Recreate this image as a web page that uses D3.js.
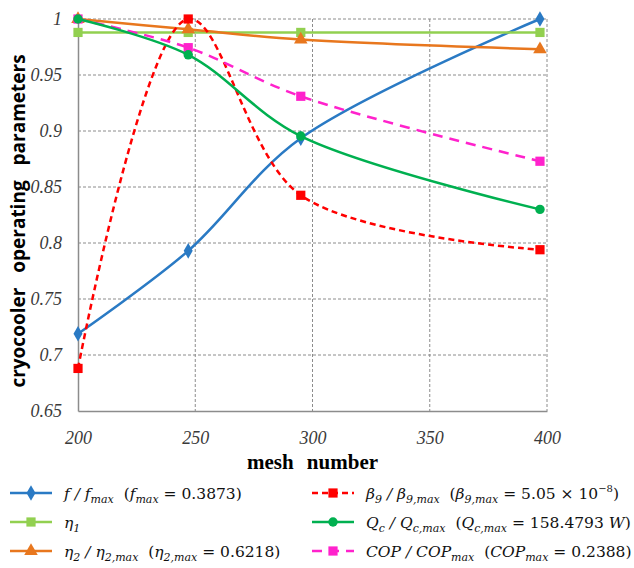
<!DOCTYPE html>
<html>
<head>
<meta charset="utf-8">
<script src="https://cdn.jsdelivr.net/npm/d3@7"></script>
<style>
  body { margin: 0; background: #fff; }
  svg { display: block; }
  .tick text { font-family: "Liberation Serif", "Times New Roman", serif; font-style: italic; font-size: 18px; fill: #3a3a3a; }
</style>
</head>
<body>
<svg id="chart" width="634" height="568"></svg>
<script>
// mesh numbers at which each series was sampled
var meshNumbers = [200, 247, 295, 397];

var fRatio = [0.719, 0.793, 0.8935, 1.0];
var eta1 = [0.988, 0.988, 0.988, 0.988];
var eta2Ratio = [1.0, 0.9908, 0.9816, 0.973];
var beta9Ratio = [0.688, 1.0, 0.8426, 0.794];
var qcRatio = [1.0, 0.968, 0.8955, 0.83];
var copRatio = [1.0, 0.9744, 0.931, 0.873];

var xTicks = [200, 250, 300, 350, 400];
var yTicks = [0.65, 0.7, 0.75, 0.8, 0.85, 0.9, 0.95, 1];

var margin = {top: 19, right: 87, bottom: 157, left: 78},
    width = 634 - margin.left - margin.right,
    height = 568 - margin.top - margin.bottom;

var svg = d3.select("#chart");
var g = svg.append("g")
    .attr("transform", "translate(" + margin.left + "," + margin.top + ")");

var x = d3.scaleLinear().domain([200, 400]).range([0, width]);
var y = d3.scaleLinear().domain([0.65, 1]).range([height, 0]);

// grid lines
g.append("g").selectAll("line").data(xTicks.slice(1))
  .enter().append("line")
    .attr("x1", function(d) { return x(d); })
    .attr("x2", function(d) { return x(d); })
    .attr("y1", 0).attr("y2", height)
    .attr("stroke", "#8c8c8c").attr("stroke-width", 1)
    .attr("stroke-dasharray", "3,2");
g.append("g").selectAll("line").data(yTicks.slice(1))
  .enter().append("line")
    .attr("x1", 0).attr("x2", width)
    .attr("y1", function(d) { return y(d); })
    .attr("y2", function(d) { return y(d); })
    .attr("stroke", "#8c8c8c").attr("stroke-width", 1)
    .attr("stroke-dasharray", "3,2");

// axes
var xAxis = g.append("g")
    .attr("transform", "translate(0," + height + ")")
    .call(d3.axisBottom(x).tickValues(xTicks).tickSize(0).tickPadding(20));
var yAxis = g.append("g")
    .call(d3.axisLeft(y).tickValues(yTicks).tickSize(0).tickPadding(16)
      .tickFormat(function(d) { return d === 1 ? "1" : String(+d.toFixed(2)); }));

[xAxis, yAxis].forEach(function(a) {
  a.attr("font-family", null).attr("font-size", null);
  a.select(".domain").attr("stroke", "#8c8c8c").attr("stroke-width", 1.5);
});

// axis titles
svg.append("text")
    .attr("transform", "translate(25," + (margin.top + height / 2 + 6) + ") rotate(-90)")
    .attr("text-anchor", "middle")
    .style("font-family", "'Open Sans', sans-serif")
    .style("font-weight", "bold")
    .style("font-size", "19px")
    .style("word-spacing", "10px")
    .text("cryocooler operating parameters");
svg.append("text")
    .attr("x", margin.left + width / 2)
    .attr("y", 469)
    .attr("text-anchor", "middle")
    .style("font-family", "'Liberation Serif', 'Times New Roman', serif")
    .style("font-weight", "bold")
    .style("font-size", "21px")
    .style("word-spacing", "8px")
    .text("mesh number");

var series = [
  {key: "f", values: fRatio, color: "#2A7AC4", dash: null, marker: "diamond", size: 70},
  {key: "eta1", values: eta1, color: "#92D050", dash: null, marker: "square", size: 85},
  {key: "eta2", values: eta2Ratio, color: "#E8771E", dash: null, marker: "triangle", size: 80},
  {key: "beta9", values: beta9Ratio, color: "#FF0000", dash: "6,4", marker: "square", size: 85},
  {key: "cop", values: copRatio, color: "#FF22CC", dash: "10,7", marker: "square", size: 85},
  {key: "qc", values: qcRatio, color: "#00B050", dash: null, marker: "circle", size: 70}
];

var symbols = {
  diamond: d3.symbolDiamond,
  square: d3.symbolSquare,
  triangle: d3.symbolTriangle,
  circle: d3.symbolCircle
};

var line = d3.line()
    .x(function(d) { return x(d[0]); })
    .y(function(d) { return y(d[1]); })
    .curve(d3.curveCatmullRom.alpha(0.5));

series.forEach(function(s) {
  var pts = meshNumbers.map(function(m, i) { return [m, s.values[i]]; });
  g.append("path")
    .datum(pts)
    .attr("fill", "none")
    .attr("stroke", s.color)
    .attr("stroke-width", 2.5)
    .attr("stroke-dasharray", s.dash)
    .attr("d", line);
  g.append("g").selectAll("path").data(pts)
    .enter().append("path")
      .attr("transform", function(d) { return "translate(" + x(d[0]) + "," + y(d[1]) + ")"; })
      .attr("d", d3.symbol().type(symbols[s.marker]).size(s.size))
      .attr("fill", s.color);
});

// legend
var legendItems = [
  {s: series[0], col: 0, row: 0, parts: [["f", 0], [" / ", 0], ["f", 0], ["max", 1], ["  (", 2], ["f", 0], ["max", 1], [" = 0.3873)", 2]]},
  {s: series[1], col: 0, row: 1, parts: [["η", 0], ["1", 1]]},
  {s: series[2], col: 0, row: 2, parts: [["η", 0], ["2", 1], [" / ", 0], ["η", 0], ["2,max", 1], ["  (", 2], ["η", 0], ["2,max", 1], [" = 0.6218)", 2]]},
  {s: series[3], col: 1, row: 0, parts: [["β", 0], ["9", 1], [" / ", 0], ["β", 0], ["9,max", 1], ["  (", 2], ["β", 0], ["9,max", 1], [" = 5.05 × 10", 2], ["−8", 3], [")", 2]]},
  {s: series[5], col: 1, row: 1, parts: [["Q", 0], ["c", 1], [" / ", 0], ["Q", 0], ["c,max", 1], ["  (", 2], ["Q", 0], ["c,max", 1], [" = 158.4793 ", 2], ["W", 0], [")", 2]]},
  {s: series[4], col: 1, row: 2, parts: [["COP", 0], [" / ", 0], ["COP", 0], ["max", 1], ["  (", 2], ["COP", 0], ["max", 1], [" = 0.2388)", 2]]}
];

var legendX = [10, 312], legendY = [493, 522, 551];

legendItems.forEach(function(item) {
  var lx = legendX[item.col], ly = legendY[item.row];
  var lg = svg.append("g").attr("transform", "translate(" + lx + "," + ly + ")");
  lg.append("line")
    .attr("x1", 0).attr("x2", 42).attr("y1", 0).attr("y2", 0)
    .attr("stroke", item.s.color).attr("stroke-width", 2.5)
    .attr("stroke-dasharray", item.s.dash);
  lg.append("path")
    .attr("transform", "translate(21,0)")
    .attr("d", d3.symbol().type(symbols[item.s.marker]).size(item.s.size))
    .attr("fill", item.s.color);
  var t = lg.append("text")
    .attr("x", 54).attr("y", 6)
    .style("font-family", "'DejaVu Serif', serif")
    .style("font-size", "15.5px")
    .style("fill", "#111")
    .style("white-space", "pre");
  var shift = 0;
  item.parts.forEach(function(p) {
    var target = p[1] === 1 ? 4 : p[1] === 3 ? -7 : 0;
    var ts = t.append("tspan").text(p[0]).attr("dy", target - shift);
    shift = target;
    if (p[1] === 0) ts.style("font-style", "italic");
    if (p[1] === 1) ts.style("font-style", "italic").style("font-size", "11px");
    if (p[1] === 3) ts.style("font-size", "10px");
  });
});
</script>
</body>
</html>
